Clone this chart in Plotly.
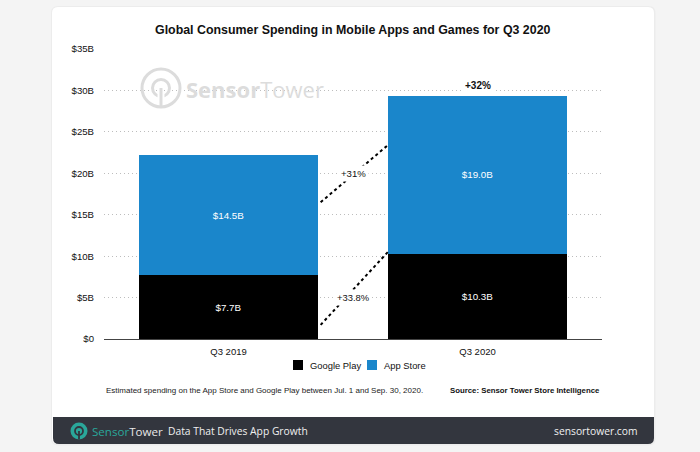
import plotly.graph_objects as go

categories = ["Q3 2019", "Q3 2020"]
google_play = [7.7, 10.3]
app_store = [14.5, 19.0]
series_names = ["Google Play", "App Store"]
growth_labels = ["+33.8%", "+31%", "+32%"]
tick_values = [0, 5, 10, 15, 20, 25, 30, 35]
tick_labels = ["$0", "$5B", "$10B", "$15B", "$20B", "$25B", "$30B", "$35B"]

W, H = 700, 452
L, R, T, B = 104, 602, 49, 339  # plot area in pixels

def px(x):
    return (x - L) / (R - L)

def py(y):
    return (B - y) / (B - T)

def rounded_rect(x0, y0, x1, y1, r, top=True, bottom=True):
    rt = r if top else 0
    rb = r if bottom else 0
    p = f"M {px(x0 + rt)} {py(y0)} L {px(x1 - rt)} {py(y0)} "
    if rt:
        p += f"Q {px(x1)} {py(y0)} {px(x1)} {py(y0 + rt)} "
    p += f"L {px(x1)} {py(y1 - rb)} "
    if rb:
        p += f"Q {px(x1)} {py(y1)} {px(x1 - rb)} {py(y1)} "
    p += f"L {px(x0 + rb)} {py(y1)} "
    if rb:
        p += f"Q {px(x0)} {py(y1)} {px(x0)} {py(y1 - rb)} "
    p += f"L {px(x0)} {py(y0 + rt)} "
    if rt:
        p += f"Q {px(x0)} {py(y0)} {px(x0 + rt)} {py(y0)} "
    p += "Z"
    return p

FONT = "Liberation Sans, Arial, sans-serif"
OPEN = "Open Sans, sans-serif"
BLUE = "#1a86cb"
BLACK = "#000000"
FOOT = "#33363e"
TEAL = "#2aa79a"

fig = go.Figure()
fig.add_trace(go.Bar(
    x=categories, y=google_play, name=series_names[0],
    marker=dict(color=BLACK, line=dict(width=0)),
    text=[f"${v:.1f}B" for v in google_play], textposition="inside",
    insidetextanchor="middle",
    textfont=dict(color="white", size=9.8, family=FONT),
    width=0.715, showlegend=False,
))
fig.add_trace(go.Bar(
    x=categories, y=app_store, name=series_names[1],
    marker=dict(color=BLUE, line=dict(width=0)),
    text=[f"${v:.1f}B" for v in app_store], textposition="inside",
    insidetextanchor="middle",
    textfont=dict(color="white", size=9.8, family=FONT),
    width=0.715, showlegend=False,
))

shapes = []
# card shadow + card
shapes.append(dict(type="path", xref="paper", yref="paper", layer="below",
                   path=rounded_rect(51, 6, 655.5, 445.5, 7), fillcolor="#ececec", line=dict(width=0)))
shapes.append(dict(type="path", xref="paper", yref="paper", layer="below",
                   path=rounded_rect(52, 7, 654, 444, 6), fillcolor="white", line=dict(width=0)))
# footer bar
shapes.append(dict(type="path", xref="paper", yref="paper", layer="below",
                   path=rounded_rect(53, 417, 654, 444, 6, top=False), fillcolor=FOOT, line=dict(width=0)))

# dashed connectors
shapes.append(dict(type="line", xref="x", yref="y", x0=0.37, y0=1.7, x1=0.64, y1=10.5,
                   line=dict(color="black", width=2, dash="3px,3px")))
shapes.append(dict(type="line", xref="x", yref="y", x0=0.37, y0=16.5, x1=0.64, y1=23.4,
                   line=dict(color="black", width=2, dash="3px,3px")))

# watermark icon
wm = "#dcdcdc"
cx, cy, rr = 161, 88, 19
shapes.append(dict(type="rect", xref="paper", yref="paper", layer="below",
                   x0=px(129), x1=px(333), y0=py(109), y1=py(68), fillcolor="white", line=dict(width=0)))
shapes.append(dict(type="circle", xref="paper", yref="paper",
                   x0=px(cx - rr), x1=px(cx + rr), y0=py(cy + rr), y1=py(cy - rr),
                   line=dict(color=wm, width=3)))
shapes.append(dict(type="circle", xref="paper", yref="paper",
                   x0=px(cx - 8.5), x1=px(cx + 8.5), y0=py(cy + 8.5), y1=py(cy - 8.5),
                   line=dict(color=wm, width=3)))
shapes.append(dict(type="rect", xref="paper", yref="paper",
                   x0=px(cx - 3.5), x1=px(cx + 3.5), y0=py(cy + 11), y1=py(cy + 3),
                   fillcolor="white", line=dict(width=0)))
shapes.append(dict(type="line", xref="paper", yref="paper",
                   x0=px(cx), x1=px(cx), y0=py(cy), y1=py(cy + rr + 1),
                   line=dict(color=wm, width=3)))

# footer icon
fcx, fcy, fr = 79, 431, 8.5
shapes.append(dict(type="circle", xref="paper", yref="paper",
                   x0=px(fcx - fr), x1=px(fcx + fr), y0=py(fcy + fr), y1=py(fcy - fr),
                   fillcolor=TEAL, line=dict(width=0)))
shapes.append(dict(type="circle", xref="paper", yref="paper",
                   x0=px(fcx - 4), x1=px(fcx + 4), y0=py(fcy + 4), y1=py(fcy - 4),
                   line=dict(color=FOOT, width=1.8)))
shapes.append(dict(type="line", xref="paper", yref="paper",
                   x0=px(fcx), x1=px(fcx), y0=py(fcy), y1=py(fcy + fr),
                   line=dict(color=FOOT, width=1.8)))

# legend squares
shapes.append(dict(type="rect", xref="paper", yref="paper",
                   x0=px(293), x1=px(303), y0=py(370), y1=py(360), fillcolor=BLACK, line=dict(width=0)))
shapes.append(dict(type="rect", xref="paper", yref="paper",
                   x0=px(367), x1=px(377), y0=py(370), y1=py(360), fillcolor=BLUE, line=dict(width=0)))

annotations = [
    dict(text="<b>Global Consumer Spending in Mobile Apps and Games for Q3 2020</b>",
         xref="paper", yref="paper", x=px(353), y=py(30), showarrow=False,
         font=dict(size=12.4, color="#111", family=FONT), xanchor="center", yanchor="middle"),
    dict(text="<b>Sensor</b>Tower", xref="paper", yref="paper", x=px(184), y=py(89),
         showarrow=False, xanchor="left", yanchor="middle",
         font=dict(size=22, color=wm, family=OPEN)),
    dict(text=growth_labels[1], xref="x", yref="y", x=0.5, y=20, showarrow=False,
         bgcolor="white", borderpad=2, font=dict(size=9.6, color="#111", family=FONT)),
    dict(text=growth_labels[0], xref="x", yref="y", x=0.5, y=5.05, showarrow=False,
         bgcolor="white", borderpad=2, font=dict(size=9.4, color="#111", family=FONT)),
    dict(text=f"<b>{growth_labels[2]}</b>", xref="x", yref="y", x=1, y=30.6, showarrow=False,
         bgcolor="white", borderpad=2, font=dict(size=10, color="#111", family=FONT)),
    dict(text=series_names[0], xref="paper", yref="paper", x=px(308), y=py(365), showarrow=False,
         xanchor="left", yanchor="middle", font=dict(size=9.4, color="#111", family=FONT)),
    dict(text=series_names[1], xref="paper", yref="paper", x=px(382), y=py(365), showarrow=False,
         xanchor="left", yanchor="middle", font=dict(size=9.4, color="#111", family=FONT)),
    dict(text="Estimated spending on the App Store and Google Play between Jul. 1 and Sep. 30, 2020.",
         xref="paper", yref="paper", x=px(104), y=py(390), showarrow=False,
         xanchor="left", yanchor="middle", font=dict(size=8, color="#222", family=FONT)),
    dict(text="<b>Source: Sensor Tower Store Intelligence</b>",
         xref="paper", yref="paper", x=px(602), y=py(390), showarrow=False,
         xanchor="right", yanchor="middle", font=dict(size=7.8, color="#111", family=FONT)),
    dict(text=f"<span style='color:{TEAL}'>Sensor</span><span style='color:#e8e8e8'>Tower</span>",
         xref="paper", yref="paper", x=px(90), y=py(431), showarrow=False,
         xanchor="left", yanchor="middle", font=dict(size=11.6, family=OPEN)),
    dict(text="Data That Drives App Growth",
         xref="paper", yref="paper", x=px(166), y=py(431), showarrow=False,
         xanchor="left", yanchor="middle", font=dict(size=10.3, color="#f0f0f0", family=OPEN)),
    dict(text="sensortower.com",
         xref="paper", yref="paper", x=px(640), y=py(431), showarrow=False,
         xanchor="right", yanchor="middle", font=dict(size=10.3, color="#f0f0f0", family=OPEN)),
]

fig.update_layout(
    width=W, height=H,
    margin=dict(l=L, r=W - R, t=T, b=H - B, pad=0),
    paper_bgcolor="#f4f4f4", plot_bgcolor="rgba(0,0,0,0)",
    barmode="stack", bargap=0.285,
    showlegend=False,
    shapes=shapes, annotations=annotations,
    font=dict(family=FONT, color="#111"),
    uniformtext=dict(mode="show", minsize=9.8),
)
fig.update_xaxes(range=[-0.5, 1.5], showgrid=False, showline=True, linecolor="#444", linewidth=1,
                 ticks="", ticklabelstandoff=4, tickfont=dict(size=9.5, color="#111"), fixedrange=True)
fig.update_yaxes(range=[0, 35], tickvals=tick_values, ticktext=tick_labels,
                 showgrid=True, gridcolor="#bdbdbd", griddash="1px,3px", gridwidth=1,
                 zeroline=False, showline=False, ticks="", ticklabelstandoff=9,
                 tickfont=dict(size=9.6, color="#111"), fixedrange=True)

fig.write_html("out.html", config={"displayModeBar": False},
               post_script="document.body.style.margin='0';document.body.style.padding='0';")
